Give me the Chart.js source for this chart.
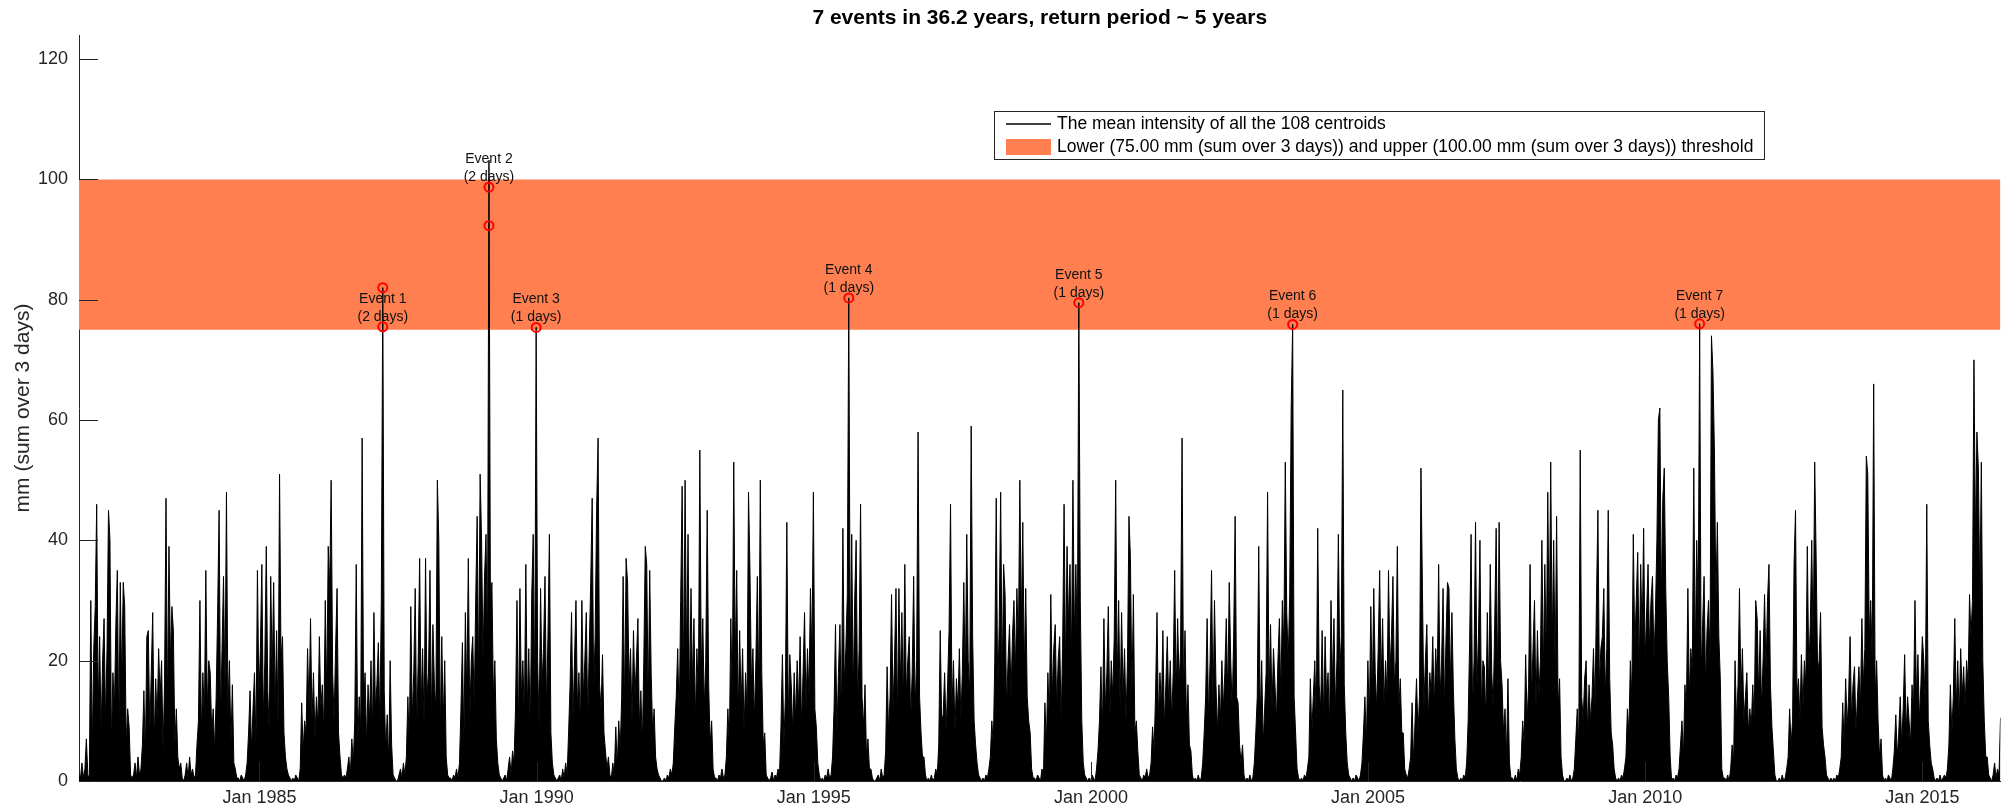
<!DOCTYPE html>
<html>
<head>
<meta charset="utf-8">
<script src="https://cdn.jsdelivr.net/npm/chart.js@4.4.1/dist/chart.umd.min.js"></script>
<style>
  html, body { margin: 0; padding: 0; background: #fff; }
  canvas { display: block; }
</style>
</head>
<body>
<canvas id="mainChart" width="2007" height="809"></canvas>
<script>
// mean intensity (mm, sum over 3 days).
// consecutive segments of 36 samples each, one sample every ~9.7 days from late Sep 1981
const seg01 = [1,0.5,3,0.5,2,7,1,0.5,30,5,22,29,46,12,24,8,20,27,10,22,45,40,6,18,12,26,35,8,33,16,33,29,6,12,9,1];
const seg02 = [0.5,1,3,0.5,4,1,2,6,15,4,24,25,8,18,28,6,17,10,22,14,20,5,16,47,12,39,20,29,25,6,12,4,2,3,0.5,0];
const seg03 = [1,3,0.5,4,1,2,0.5,1,6,10,30,8,18,10,35,12,20,18,8,12,5,14,28,45,10,22,34,15,48,12,20,6,16,3,2,0.5];
const seg04 = [0.5,0,1,0.5,0,1,3,8,15,5,12,18,6,35,14,22,36,10,20,39,15,8,34,18,33,12,25,9,51,20,24,8,4,2,1,0.5];
const seg05 = [0,0.5,0,1,0.5,0,2,13,5,10,8,22,12,27,10,18,7,14,9,24,12,16,8,30,14,39,32,50,18,10,22,32,8,4,1,0.5];
const seg06 = [1,0.5,2,4,1,7,3,10,36,6,14,8,57,12,18,6,16,10,20,8,28,12,16,23,9,30,82,15,5,11,3,20,6,1,0.5,0];
const seg07 = [0,1,2,0.5,3,1,4,14,6,29,10,18,32,8,20,37,12,22,9,37,14,18,35,10,26,16,12,50,40,8,24,10,20,4,1,0.5];
const seg08 = [0.5,0,1,0.5,2,0.5,3,12,23,6,28,14,37,10,20,24,12,30,44,16,51,40,20,34,41,22,103.2,30,33,14,20,7,3,1,0.5,0];
const seg09 = [0.5,1,0,2,4,1,5,3,12,30,8,32,14,20,10,36,12,22,8,31,41,14,75.4,20,9,32,16,22,34,12,24,41,8,3,1,0.5];
const seg10 = [0,0.5,1,0,2,0.5,3,1,8,16,28,10,20,30,12,18,9,30,14,20,28,10,22,33,47,15,24,45,57,16,12,21,8,5,2,4];
const seg11 = [1,0.5,3,1,9,2,10,5,14,34,12,37,33,16,22,10,25,14,20,27,9,15,6,20,39,36,12,35,18,8,12,4,2,1,0.5,0];
const seg12 = [0,0.5,0,1,0.5,2,1,3,9,14,22,10,30,49,16,50,20,41,12,32,16,27,10,22,14,55,18,27,12,20,45,16,6,10,2,0.5];
const seg13 = [0.5,0,1,0.5,2,0.5,1,4,12,6,27,14,53,20,35,10,25,12,22,8,18,12,48,35,16,22,10,20,34,14,50,18,6,8,1,0.5];
const seg14 = [0,0.5,1.5,0,1,0.5,2,1,9,21,6,14,43,10,21,16,8,18,10,20,12,24,9,18,28,12,22,14,32,20,48,12,9,3,1,0];
const seg15 = [0.5,0,1,0.5,2,0.5,1,4,12,26,8,18,26,10,42,16,22,31,80.3,20,41,14,30,40,12,22,46,14,9,16,4,7,2,2,0.5,0];
const seg16 = [0,0.5,1,0,2,0.5,1,5,19,8,14,31,12,20,32,10,32,16,28,12,36,14,20,24,10,18,34,12,20,58,14,8,4,4,1,0];
const seg17 = [0.5,0,1,0,0.5,2,1,6,25,10,11,18,8,16,25,46,12,20,8,17,12,22,10,18,33,16,41,20,14,59,24,10,6,3,1,0.5];
const seg18 = [0,0.5,0,1,0.5,2,4,10,6,20,47,14,26,48,16,36,31,12,20,26,14,24,30,18,32,22,50,26,43,18,32,14,10,8,2,0.5];
const seg19 = [0.5,0,1,0.5,0,2,1,13,6,18,10,31,14,22,26,12,20,24,10,22,46,18,39,26,36,20,50,24,36,22,79.5,30,10,3,1,0.5];
const seg20 = [0,0.5,0,1,0.5,0,2,5,10,19,8,27,12,18,29,10,20,14,24,50,16,30,12,28,14,22,10,20,44,37,14,31,8,10,5,1];
const seg21 = [0.5,0,1,0.5,2,0.5,1,3,9,5,14,28,10,18,12,25,9,16,24,12,20,10,18,35,14,27,16,22,57,14,25,10,16,6,5,1];
const seg22 = [0,0.5,0,1,0,0.5,3,8,14,27,10,20,35,12,30,16,8,16,10,20,12,18,27,14,33,20,12,24,44,14,13,6,3,6,1,0];
const seg23 = [0.5,0,1,0,0.5,3,8,14,39,10,20,6,12,18,48,14,26,12,22,16,10,20,27,14,30,22,53,28,20,31,62,75.9,14,8,2,0.5];
const seg24 = [0,0.5,0,1,0.5,2,4,17,8,14,20,10,42,16,12,25,10,24,14,18,9,30,16,27,12,20,41,18,24,65,16,8,3,1,0.5,0];
const seg25 = [0.5,0,1,0.5,0,1,3,8,14,6,20,10,29,14,32,18,12,22,35,16,27,12,20,14,35,18,24,34,16,20,39,12,17,8,8,2];
const seg26 = [1,0.5,2,4,13,3,10,17,8,14,52,32,12,20,26,10,18,14,24,12,22,16,36,14,20,32,12,24,33,32,16,28,15,7,2,0.5];
const seg27 = [0,0.5,0,1,0.5,3,10,23,41,12,20,43,16,24,40,12,20,19,10,28,14,36,18,12,26,42,16,43,20,16,8,12,4,17,3,0.5];
const seg28 = [0.5,0,1,0,2,1,4,10,6,21,10,16,36,14,22,30,12,25,14,20,40,18,36,20,48,24,53,22,40,18,44,12,17,4,1,0];
const seg29 = [0,0.5,0,1,0,0.5,2,7,12,6,55,14,10,17,20,8,16,10,14,22,12,30,45,16,22,24,32,14,22,45,17,8,6,2,0.5,0];
const seg30 = [0.5,0,1,0.5,2,4,12,8,20,14,41,22,30,38,18,36,24,42,20,28,36,22,30,34,20,28,40,60,62,30,47,52,32,20,14,4];
const seg31 = [0,0.5,0,1,0.5,2,6,10,4,16,12,32,14,22,18,52,20,40,28,76,18,26,34,16,25,30,20,74,68,55,30,43,24,17,2,0.5];
const seg32 = [0.5,0,1,0,2,6,3,20,10,16,32,14,22,10,14,18,8,12,9,16,10,30,27,14,25,12,20,31,18,30,36,16,9,5,1,0];
const seg33 = [0,0.5,0,1,0,0.5,2,4,12,6,10,36,45,14,17,10,21,12,20,16,39,18,26,40,22,53,37,18,20,28,9,6,4,1,0.5,0];
const seg34 = [0.5,0,0.5,0,1,0.5,2,4,13,6,17,9,14,24,10,16,19,8,14,19,12,27,16,22,54,51,24,30,20,66,14,20,10,4,7,1];
const seg35 = [0,0.5,0,1,0.5,0,2,5,11,4,8,14,6,12,21,8,14,10,6,16,12,30,14,21,10,16,24,20,12,46,10,6,3,2,0.5,0];
const seg36 = [0.5,0,1,0,0.5,1,0.5,2,6,16,8,14,27,12,20,10,22,14,19,12,20,16,31,24,30,70,40,58,52,30,53,20,10,4,4,1];
const seg37 = [0.5,0,1,3,0.5,2,1,10.5];

const segments = [seg01, seg02, seg03, seg04, seg05, seg06, seg07, seg08, seg09, seg10,
                  seg11, seg12, seg13, seg14, seg15, seg16, seg17, seg18, seg19, seg20,
                  seg21, seg22, seg23, seg24, seg25, seg26, seg27, seg28, seg29, seg30,
                  seg31, seg32, seg33, seg34, seg35, seg36, seg37];
const sampleStart = 1981.744;   // decimal year of the first sample
const sampleStep = 0.026604;    // years between samples

// events: sample index, duration, values marked with circles
const eventSample = [206, 278, 310, 522, 678, 823, 1099];
const eventDays = [2, 2, 1, 1, 1, 1, 1];
const eventValues = [[75.5, 82.0], [98.7, 92.3], [75.4], [80.3], [79.5], [75.9], [76.0]];

const thresholdLow = 75;
const thresholdHigh = 100;
const yMin = 0, yMax = 124;
const yTickVals = [0, 20, 40, 60, 80, 100, 120];
const xTickYears = [1985, 1990, 1995, 2000, 2005, 2010, 2015];

const titleText = '7 events in 36.2 years, return period ~ 5 years';
const lineLabel = 'The mean intensity of all the 108 centroids';
const bandLabel = 'Lower (75.00 mm (sum over 3 days)) and upper (100.00 mm (sum over 3 days)) threshold';

const axisColor = '#262626';
const bandColor = 'rgb(255, 127, 80)';
const fontFamily = '"Liberation Sans", Arial, Helvetica, sans-serif';
const tickLen = 19;

const series = [];
segments.forEach(seg => seg.forEach(v => {
    series.push({x: sampleStart + series.length * sampleStep, y: v});
}));
const xMin = sampleStart;
const xMax = series[series.length - 1].x;

const eventX = eventSample.map(n => sampleStart + n * sampleStep);
const eventPoints = [];
eventX.forEach((ex, k) => eventValues[k].forEach(v => eventPoints.push({x: ex, y: v})));

Chart.defaults.font.family = fontFamily;

const decor = {
    id: 'decor',
    afterDatasetsDraw(chart) {
        const {ctx, chartArea: a, scales: {x, y}} = chart;
        ctx.save();
        // inward tick marks, matlab style
        ctx.strokeStyle = axisColor;
        ctx.lineWidth = 1;
        ctx.beginPath();
        yTickVals.forEach(v => {
            const py = Math.round(y.getPixelForValue(v)) + 0.5;
            ctx.moveTo(a.left, py);
            ctx.lineTo(a.left + tickLen, py);
        });
        xTickYears.forEach(v => {
            const px = Math.round(x.getPixelForValue(v)) + 0.5;
            ctx.moveTo(px, a.bottom);
            ctx.lineTo(px, a.bottom - tickLen);
        });
        ctx.stroke();

        // event labels
        ctx.fillStyle = '#111';
        ctx.font = '14px ' + fontFamily;
        ctx.textAlign = 'center';
        ctx.textBaseline = 'middle';
        eventX.forEach((ex, k) => {
            const px = x.getPixelForValue(ex);
            const py = y.getPixelForValue(eventValues[k][0]);
            ctx.fillText('(' + eventDays[k] + ' days)', px, py - 10);
            ctx.fillText('Event ' + (k + 1), px, py - 28);
        });

        // legend box
        const lx = 994, ly = 111, lw = 770, lh = 48;
        ctx.fillStyle = '#fff';
        ctx.fillRect(lx, ly, lw, lh);
        ctx.strokeStyle = axisColor;
        ctx.strokeRect(lx + 0.5, ly + 0.5, lw, lh);
        ctx.strokeStyle = '#000';
        ctx.lineWidth = 1.5;
        ctx.beginPath();
        ctx.moveTo(lx + 12, ly + 13);
        ctx.lineTo(lx + 57, ly + 13);
        ctx.stroke();
        ctx.fillStyle = bandColor;
        ctx.fillRect(lx + 12, ly + 28, 45, 16);
        ctx.fillStyle = '#000';
        ctx.font = '17.5px ' + fontFamily;
        ctx.textAlign = 'left';
        ctx.fillText(lineLabel, lx + 63, ly + 13);
        ctx.fillText(bandLabel, lx + 63, ly + 36);
        ctx.restore();
    },
    afterDraw(chart) {
        const {ctx, chartArea: a} = chart;
        ctx.save();
        ctx.fillStyle = '#000';
        ctx.font = 'bold 21px ' + fontFamily;
        ctx.textAlign = 'center';
        ctx.textBaseline = 'middle';
        ctx.fillText(titleText, (a.left + a.right) / 2, 18);
        ctx.restore();
    }
};

new Chart(document.getElementById('mainChart'), {
    type: 'line',
    data: {
        datasets: [{
            label: 'lower',
            data: [{x: xMin, y: thresholdLow}, {x: xMax, y: thresholdLow}],
            borderWidth: 0,
            pointRadius: 0,
            fill: false,
            order: 3,
        }, {
            label: bandLabel,
            data: [{x: xMin, y: thresholdHigh}, {x: xMax, y: thresholdHigh}],
            borderWidth: 0,
            pointRadius: 0,
            backgroundColor: bandColor,
            fill: '-1',
            order: 3,
        }, {
            label: lineLabel,
            data: series,
            borderColor: '#000',
            backgroundColor: '#000',
            borderWidth: 1,
            pointRadius: 0,
            tension: 0,
            fill: 'origin',
            order: 2,
        }, {
            label: 'events',
            data: eventPoints,
            showLine: false,
            pointRadius: 4.5,
            pointBorderWidth: 2,
            pointBorderColor: 'rgb(255, 0, 0)',
            pointBackgroundColor: 'rgba(0, 0, 0, 0)',
            fill: false,
            order: 1,
        }]
    },
    options: {
        responsive: false,
        animation: false,
        layout: {
            padding: {top: 35, right: 6, left: 0, bottom: 0}
        },
        plugins: {
            legend: {display: false},
            tooltip: {enabled: false},
            title: {display: false}
        },
        scales: {
            x: {
                type: 'linear',
                min: xMin,
                max: xMax,
                afterBuildTicks: s => { s.ticks = xTickYears.map(v => ({value: v})); },
                afterFit: s => { s.height = 28; },
                grid: {drawOnChartArea: false, drawTicks: false},
                border: {display: true, color: axisColor, width: 1},
                ticks: {
                    callback: v => 'Jan ' + v,
                    color: axisColor,
                    font: {size: 18},
                    padding: 6,
                    maxRotation: 0,
                    autoSkip: false
                }
            },
            y: {
                min: yMin,
                max: yMax,
                afterBuildTicks: s => { s.ticks = yTickVals.map(v => ({value: v})); },
                afterFit: s => { s.width = 79; },
                grid: {drawOnChartArea: false, drawTicks: false},
                border: {display: true, color: axisColor, width: 1},
                ticks: {
                    color: axisColor,
                    font: {size: 18},
                    padding: 11
                },
                title: {
                    display: true,
                    text: 'mm (sum over 3 days)',
                    color: axisColor,
                    font: {size: 21},
                    padding: {top: 11, bottom: 0}
                }
            }
        }
    },
    plugins: [decor]
});
</script>
</body>
</html>
